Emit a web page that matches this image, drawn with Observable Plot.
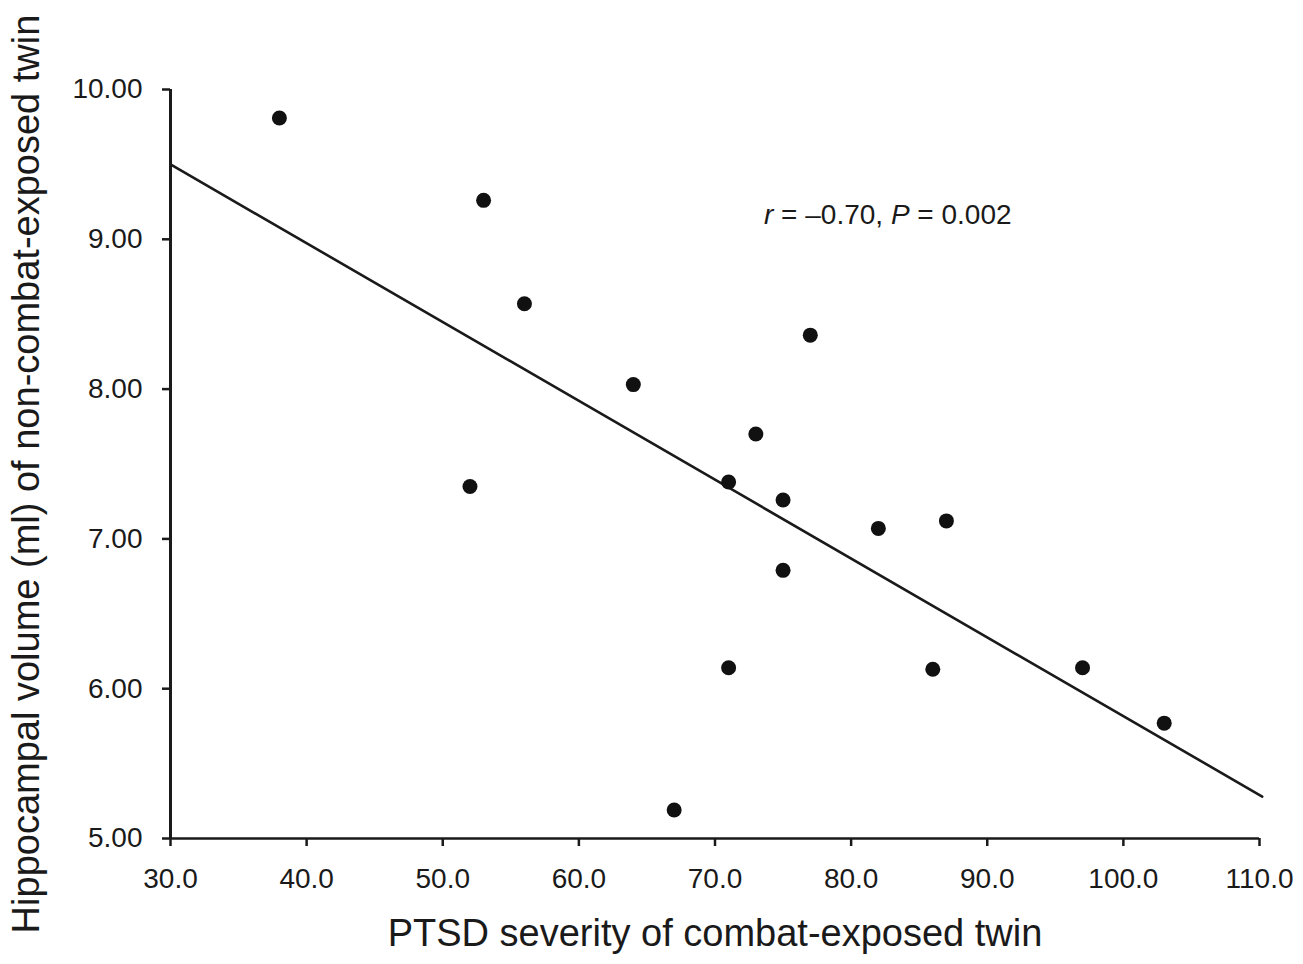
<!DOCTYPE html>
<html>
<head>
<meta charset="utf-8">
<script src="https://cdn.jsdelivr.net/npm/d3@7"></script>
<script src="https://cdn.jsdelivr.net/npm/@observablehq/plot@0.6"></script>
<style>
  html, body { margin: 0; padding: 0; background: #fff; }
  #chart { width: 1303px; height: 964px; }
</style>
</head>
<body>
<div id="chart"></div>
<script>
// Data
const ptsdSeverity = [38, 53, 56, 64, 52, 77, 73, 71, 75, 82, 87, 75, 71, 86, 97, 103, 67];
const hippocampalVolume = [9.81, 9.26, 8.57, 8.03, 7.35, 8.36, 7.70, 7.38, 7.26, 7.07, 7.12, 6.79, 6.14, 6.13, 6.14, 5.77, 5.19];
const fitLineX = [30, 110.2];
const fitLineY = [9.50, 5.28];
const xTickValues = [30, 40, 50, 60, 70, 80, 90, 100, 110];
const yTickValues = [5, 6, 7, 8, 9, 10];
const xTitle = "PTSD severity of combat-exposed twin";
const yTitle = "Hippocampal volume (ml) of non-combat-exposed twin";
const annotation = "r = \u20130.70, P = 0.002";

const points = ptsdSeverity.map((x, i) => ({x, y: hippocampalVolume[i]}));
const fit = fitLineX.map((x, i) => ({x, y: fitLineY[i]}));

const ink = "#1a1a1a";
const chart = Plot.plot({
  width: 1303,
  height: 964,
  marginLeft: 170,
  marginRight: 44,
  marginTop: 89,
  marginBottom: 126,
  style: {fontFamily: "'Liberation Sans', Arial, Helvetica, sans-serif", fontSize: "28px", color: ink, background: "#fff"},
  x: {domain: [30, 110]},
  y: {domain: [5, 10]},
  marks: [
    Plot.axisX({ticks: xTickValues, tickFormat: d => d.toFixed(1), tickSize: 8, tickPadding: 22, label: null, strokeWidth: 2.5, stroke: ink}),
    Plot.axisY({ticks: yTickValues, tickFormat: d => d.toFixed(2), tickSize: 8, tickPadding: 20, label: null, strokeWidth: 2.5, stroke: ink}),
    Plot.ruleX([30], {y1: 5, y2: 10, strokeWidth: 3, stroke: ink}),
    Plot.ruleY([5], {x1: 30, x2: 110, strokeWidth: 2.5, stroke: ink}),
    Plot.line(fit, {x: "x", y: "y", stroke: ink, strokeWidth: 2.6}),
    Plot.dot(points, {x: "x", y: "y", r: 7.5, fill: "#111", stroke: "none"}),
    Plot.text([annotation], {x: 73.6, y: 9.1, text: d => d, textAnchor: "start", lineAnchor: "bottom", fontSize: 28, fill: ink}),
    Plot.text([xTitle], {frameAnchor: "bottom", dy: 107, text: d => d, textAnchor: "middle", lineAnchor: "bottom", fontSize: 38, fill: ink}),
    Plot.text([yTitle], {frameAnchor: "left", rotate: -90, dx: -132, dy: 10, text: d => d, textAnchor: "middle", lineAnchor: "bottom", fontSize: 38, fill: ink})
  ]
});

// italicise r and P in the annotation
d3.select(chart).selectAll("text").each(function() {
  if (this.textContent === annotation) {
    const t = d3.select(this);
    t.text(null);
    t.append("tspan").attr("font-style", "italic").text("r");
    t.append("tspan").text(" = \u20130.70, ");
    t.append("tspan").attr("font-style", "italic").text("P");
    t.append("tspan").text(" = 0.002");
  }
});

document.getElementById("chart").append(chart);
</script>
</body>
</html>
